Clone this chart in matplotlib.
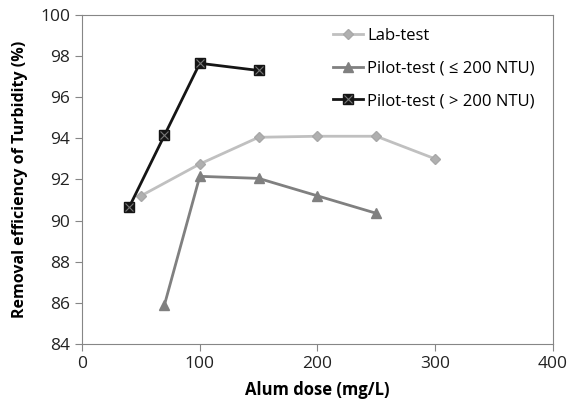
import matplotlib.pyplot as plt
from matplotlib.legend_handler import HandlerTuple

# data
lab_x = [50, 100, 150, 200, 250, 300]
lab_y = [91.2, 92.75, 94.05, 94.1, 94.1, 93.0]
pilot_lo_x = [70, 100, 150, 200, 250]
pilot_lo_y = [85.9, 92.15, 92.05, 91.2, 90.35]
pilot_hi_x = [40, 70, 100, 150]
pilot_hi_y = [90.65, 94.15, 97.65, 97.3]

plt.rcParams['font.family'] = ['Open Sans', 'DejaVu Sans']
plt.rcParams['font.size'] = 10

fig = plt.figure(figsize=(5.7, 4.05), dpi=100)
ax = fig.add_axes([0.144, 0.151, 0.826, 0.812])

l1, = ax.plot(lab_x, lab_y, color='#c0c0c0', lw=2, marker='D', ms=5,
              mfc='#b0b0b0', mec='#a8a8a8', label='Lab-test')
l2, = ax.plot(pilot_lo_x, pilot_lo_y, color='#808080', lw=2, marker='^', ms=7,
              mfc='#808080', mec='#808080', label='Pilot-test ( \u2264 200 NTU)')
l3, = ax.plot(pilot_hi_x, pilot_hi_y, color='#151515', lw=2, marker='s', ms=7,
              mfc='#151515', mec='#151515')
l3x, = ax.plot(pilot_hi_x, pilot_hi_y, ls='none', marker='x', ms=6,
               mec='#777777', mew=0.8)

ax.set_xlim(0, 400)
ax.set_ylim(84, 100)
ax.set_xticks([0, 100, 200, 300, 400])
ax.set_yticks(range(84, 101, 2))
for s in ax.spines.values():
    s.set_color('#868686')
ax.tick_params(axis='both', color='#868686', length=5, labelsize=12.5, labelcolor='#222222')

ax.set_xlabel('Alum dose (mg/L)', fontweight='bold', fontsize=12, labelpad=7)
ax.set_ylabel('Removal efficiency of Turbidity (%)', fontweight='bold', fontsize=11.5, labelpad=9)

leg = ax.legend([l1, l2, (l3, l3x)],
                ['Lab-test', 'Pilot-test ( \u2264 200 NTU)', 'Pilot-test ( > 200 NTU)'],
                handler_map={tuple: HandlerTuple(ndivide=1, pad=0)},
                loc='upper left', bbox_to_anchor=(333 / 570, 1 - 28 / 405),
                bbox_transform=fig.transFigure,
                fontsize=12, frameon=False, handlelength=1.8,
                handletextpad=0.25, labelspacing=1.0, borderpad=0, borderaxespad=0)

fig.savefig('out.png', dpi=100)
